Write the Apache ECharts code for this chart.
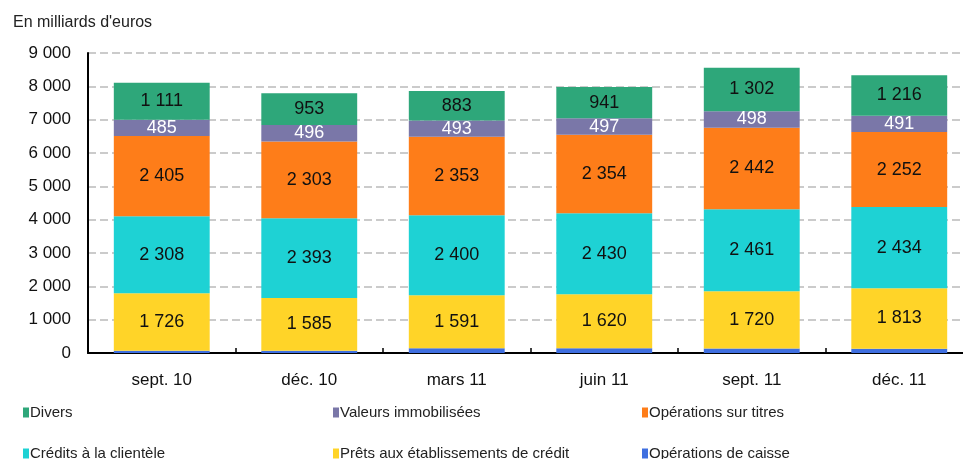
<!DOCTYPE html>
<html><head><meta charset="utf-8">
<script src="https://cdn.jsdelivr.net/npm/echarts@6/dist/echarts.min.js"></script>
<style>html,body{margin:0;padding:0;background:#fff;overflow:hidden}#c{width:980px;height:459px}</style>
</head><body><div id="c"></div>
<script>
var categories = ["sept. 10", "déc. 10", "mars 11", "juin 11", "sept. 11", "déc. 11"];
var caisse = [70, 65, 140, 140, 135, 130];
var prets = [1726, 1585, 1591, 1620, 1720, 1813];
var credits = [2308, 2393, 2400, 2430, 2461, 2434];
var titres = [2405, 2303, 2353, 2354, 2442, 2252];
var valeurs = [485, 496, 493, 497, 498, 491];
var divers = [1111, 953, 883, 941, 1302, 1216];
var yTicks = [0, 1000, 2000, 3000, 4000, 5000, 6000, 7000, 8000, 9000];

function fmt(v){ return String(v).replace(/\B(?=(\d{3})+(?!\d))/g, " "); }
var FONT = "Liberation Sans";
function series(name, data, color, labelColor){
  return {
    name: name, type: "bar", stack: "s", data: data, barCategoryGap: "35%",
    itemStyle: {color: color},
    label: labelColor ? {show: true, position: "inside", color: labelColor, fontSize: 18, fontFamily: FONT,
      formatter: function(p){ return fmt(p.value); }} : {show: false},
    emphasis: {disabled: true}
  };
}
var chart = echarts.init(document.getElementById("c"), null, {renderer: "canvas"});
var legendItems = [
  ["Divers", 18, 400], ["Valeurs immobilisées", 328, 400], ["Opérations sur titres", 637, 400],
  ["Crédits à la clientèle", 18, 441], ["Prêts aux établissements de crédit", 328, 441], ["Opérations de caisse", 637, 441]
];
chart.setOption({
  animation: false,
  title: {text: "En milliards d'euros", left: 8, top: 10, textStyle: {fontSize: 16, fontWeight: "normal", color: "#222", fontFamily: FONT}},
  legend: legendItems.map(function(l){
    return {data: [l[0]], left: l[1], top: l[2], itemWidth: 6, itemHeight: 10, itemGap: 4, icon: "rect",
      textStyle: {fontSize: 15, color: "#222", fontFamily: FONT, padding: [0,0,0,-4]}, selectedMode: false};
  }),
  grid: {left: 88, right: 7, top: 53, bottom: 106},
  xAxis: {type: "category", data: categories,
    axisLine: {lineStyle: {color: "#000", width: 2}},
    axisTick: {show: true, inside: true, length: 5, lineStyle: {color: "#000", width: 1.5}},
    axisLabel: {fontSize: 17, color: "#111", fontFamily: FONT, margin: 19}},
  yAxis: {type: "value", min: 0, max: 9000, interval: 1000,
    axisLine: {show: true, lineStyle: {color: "#000", width: 2}},
    axisTick: {show: false},
    splitLine: {lineStyle: {color: "#bbb", type: [8, 4], width: 1.5}},
    axisLabel: {fontSize: 17, color: "#111", fontFamily: FONT, margin: 17,
      formatter: function(v){ return yTicks.indexOf(v) >= 0 ? fmt(v) : ""; }}},
  series: [
    series("Opérations de caisse", caisse, "#3F6FE0", null),
    series("Prêts aux établissements de crédit", prets, "#FFD428", "#111"),
    series("Crédits à la clientèle", credits, "#1ED2D4", "#111"),
    series("Opérations sur titres", titres, "#FE7D19", "#111"),
    series("Valeurs immobilisées", valeurs, "#7A77A8", "#fff"),
    series("Divers", divers, "#2EA77A", "#111")
  ]
});
</script></body></html>
